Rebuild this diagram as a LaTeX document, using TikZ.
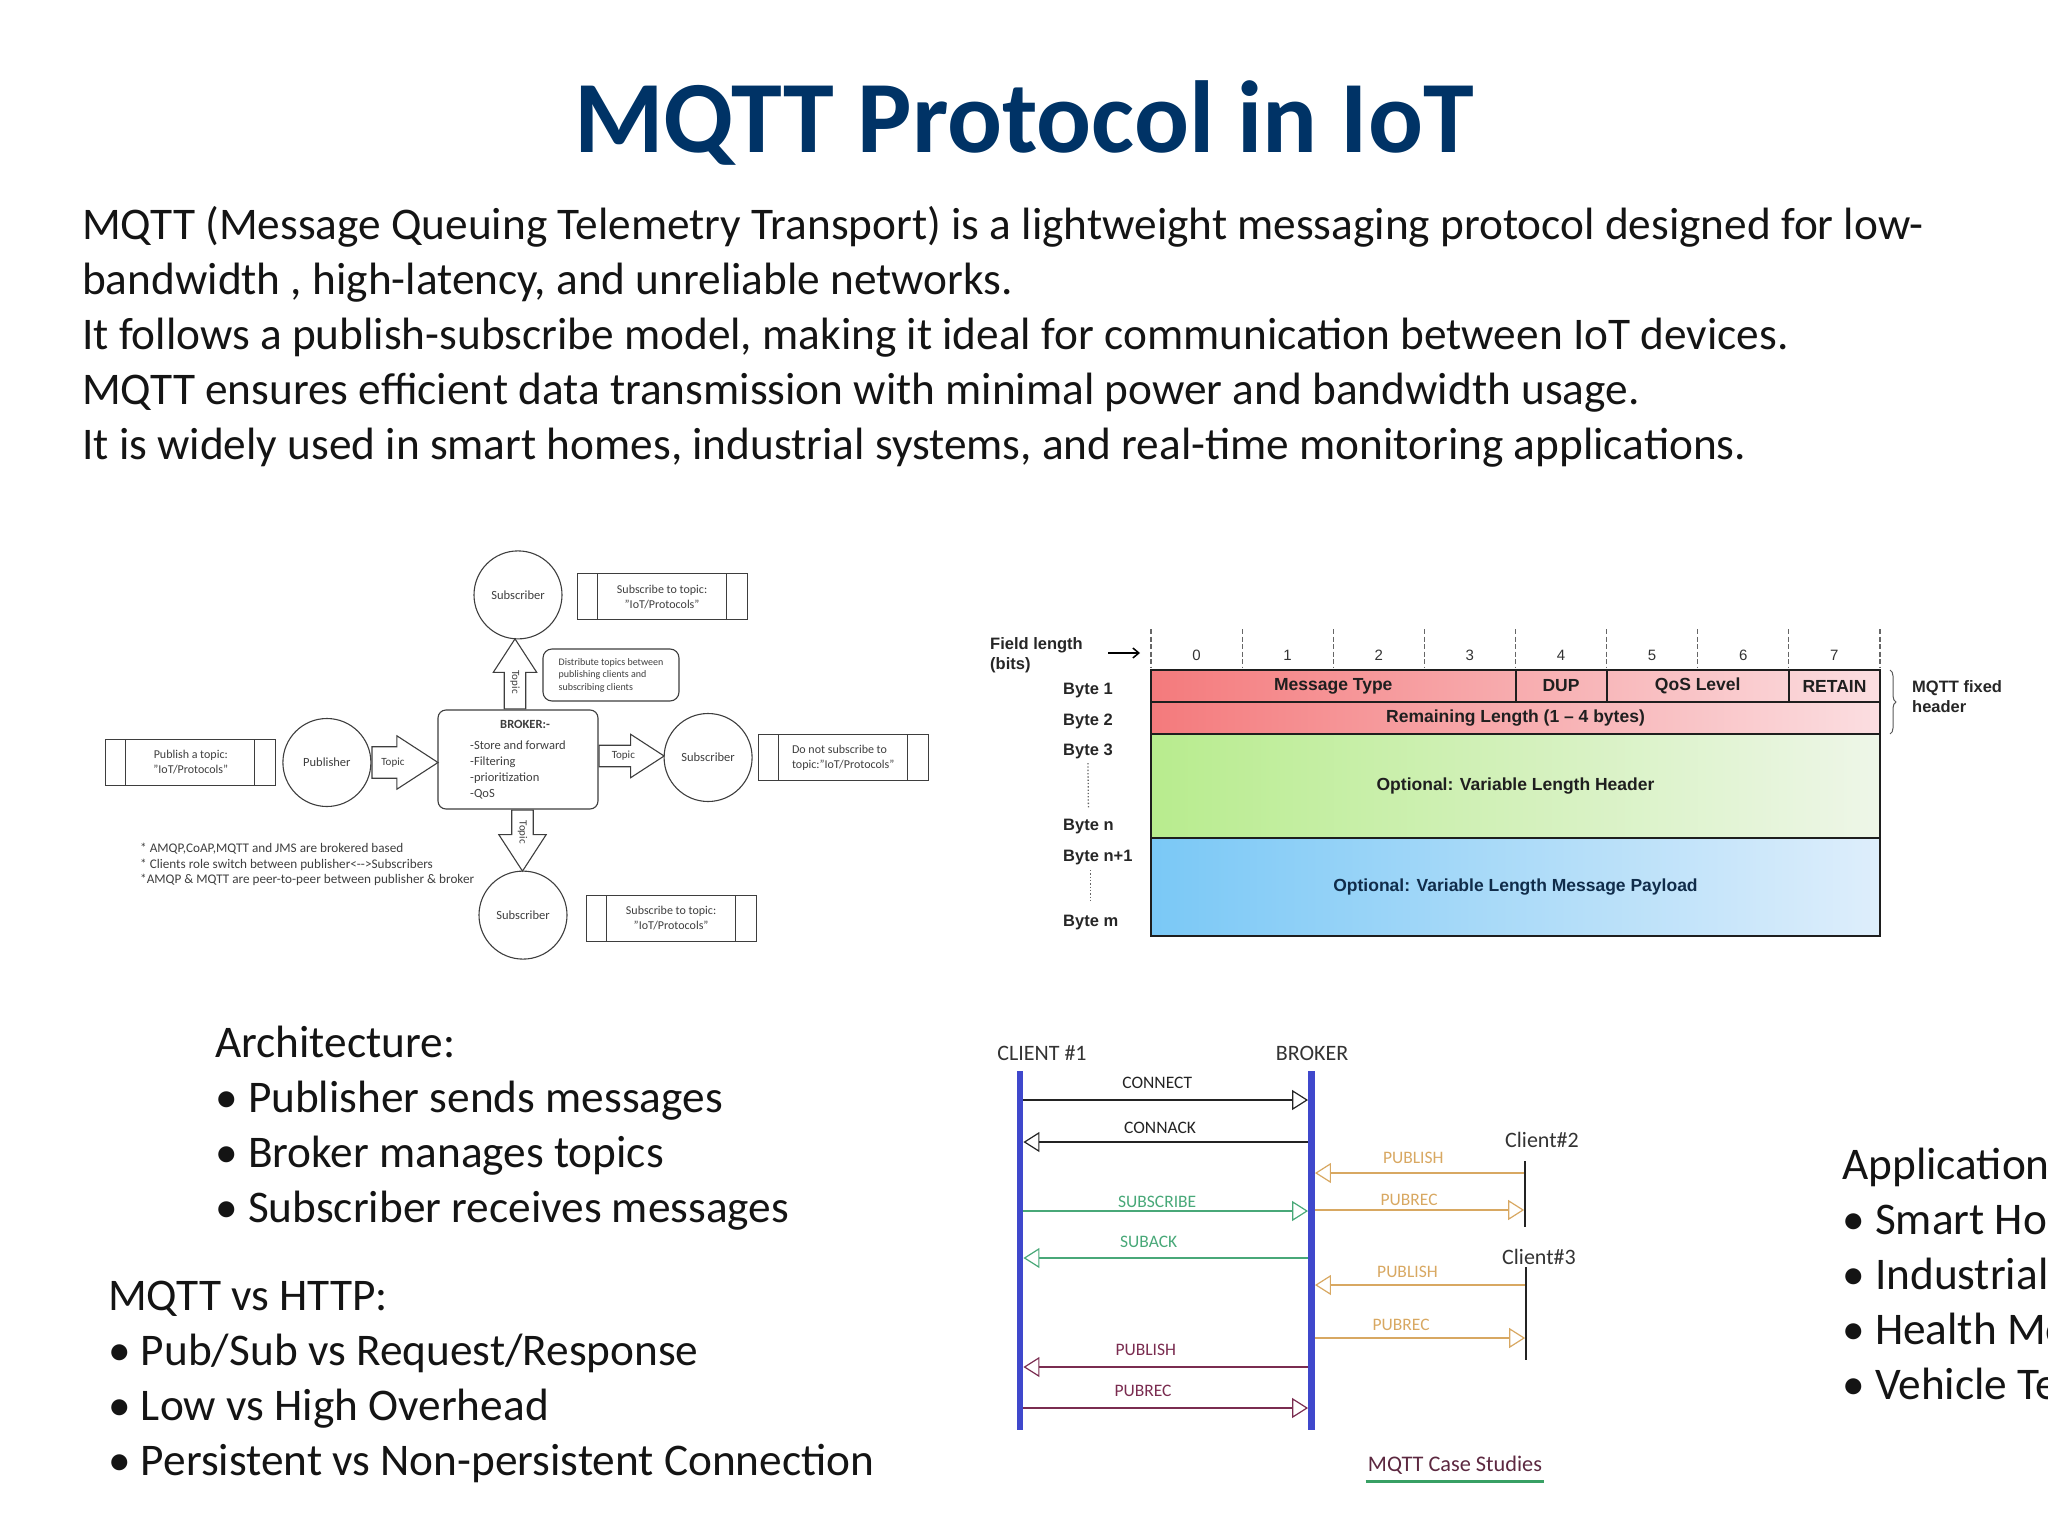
\documentclass[tikz,border=0pt]{standalone}
\usepackage{fontspec}
\setmainfont{Carlito}
\newfontfamily\arialfont{Liberation Sans}
\usepackage{graphicx}
\usetikzlibrary{arrows.meta,positioning,shapes.arrows,decorations.pathreplacing,calc}

\definecolor{titleblue}{RGB}{0,51,102}
\definecolor{diagray}{RGB}{62,62,62}
\definecolor{redL}{RGB}{244,122,124}
\definecolor{redR}{RGB}{251,222,225}
\definecolor{grnL}{RGB}{184,236,142}
\definecolor{grnR}{RGB}{238,246,232}
\definecolor{bluL}{RGB}{122,200,246}
\definecolor{bluR}{RGB}{222,238,251}
\definecolor{pkline}{RGB}{30,30,30}
\definecolor{payload}{RGB}{16,44,74}
\definecolor{seqblue}{RGB}{63,72,204}
\definecolor{seqblack}{RGB}{35,35,35}
\definecolor{subgreen}{RGB}{72,168,120}
\definecolor{puborange}{RGB}{216,168,98}
\definecolor{pubmaroon}{RGB}{122,44,80}
\definecolor{casegreen}{RGB}{56,160,100}
\definecolor{casetext}{RGB}{92,40,64}

\begin{document}
\begin{tikzpicture}[x=1pt,y=-1pt,
  txt/.style={anchor=north west,inner sep=0pt,align=left,text=black!92,
              font=\fontsize{45.3}{55}\selectfont},
  sub/.style={circle,draw=diagray,line width=1.1pt,minimum size=88pt,inner sep=0pt,
              text=diagray,font=\fontsize{12.5}{15}\selectfont},
  tbox/.style={draw=diagray,line width=1.1pt,minimum width=170pt,minimum height=46pt,
               inner sep=0pt,align=center,text=diagray,font=\fontsize{12}{15}\selectfont,
               path picture={\draw[diagray,line width=1.1pt]
                 ([xshift=20pt]path picture bounding box.north west) -- ([xshift=20pt]path picture bounding box.south west)
                 ([xshift=-21pt]path picture bounding box.north east) -- ([xshift=-21pt]path picture bounding box.south east);}},
  broker/.style={draw=diagray,line width=1.1pt,rounded corners=8pt,minimum width=160pt,
                 minimum height=99pt,align=left,text=diagray,font=\fontsize{12.5}{16}\selectfont},
  topicarr/.style={single arrow,draw=diagray,fill=white,line width=1.1pt,
                   single arrow head extend=11pt,single arrow tip angle=66,
                   inner xsep=3pt,inner ysep=5.5pt,text=diagray,font=\fontsize{11}{11}\selectfont},
  pkcell/.style={draw=pkline,line width=2pt,anchor=north west,inner sep=0pt,outer sep=0pt,
                 text=black!88,font=\arialfont\bfseries\fontsize{17.5}{20}\selectfont},
  pklabel/.style={anchor=base west,inner sep=0pt,text=black!85,
                  font=\arialfont\bfseries\fontsize{16.5}{20}\selectfont},
  bitnum/.style={inner sep=0pt,text=black!80,font=\arialfont\fontsize{15}{16}\selectfont},
  lifeline/.style={fill=seqblue,minimum width=6.5pt,minimum height=359pt,inner sep=0pt},
  thinline/.style={fill=seqblack,minimum width=1.3pt,inner sep=0pt},
  msg/.style={line width=1.2pt,-{Triangle[open,length=16pt,width=20pt]}},
  mlabel/.style={inner sep=0pt,font=\fontsize{17.5}{18}\selectfont},
  seqhead/.style={inner sep=0pt,text=black!80,font=\fontsize{22}{24}\selectfont}]

\useasboundingbox (0,0) rectangle (2048,1536);
\clip (0,0) rectangle (2048,1536);

% title and introduction
\node[anchor=base,text=titleblue,font=\fontsize{102.4}{110}\selectfont\bfseries] (title) at (1024,153) {MQTT Protocol in IoT};
\node[txt] (intro) at (82,206) {MQTT (Message Queuing Telemetry Transport) is a lightweight messaging protocol designed for low-\\
bandwidth , high-latency, and unreliable networks.\\
It follows a publish-subscribe model, making it ideal for communication between IoT devices.\\
MQTT ensures efficient data transmission with minimal power and bandwidth usage.\\
It is widely used in smart homes, industrial systems, and real-time monitoring applications.};

% publish / subscribe through the broker
\node[broker] (broker) at (518,759.5) {\hspace*{30pt}\textbf{BROKER:-}\\[5pt]-Store and forward\\-Filtering\\-prioritization\\-QoS};
\node[sub,above=70pt of broker] (subtop) {Subscriber};
\node[sub,left=66pt of broker,yshift=-3pt] (pub) {Publisher};
\node[sub,right=65pt of broker,yshift=2pt] (subright) {Subscriber};
\node[sub,below=61pt of broker,xshift=5pt] (subbot) {Subscriber};

\node[topicarr,anchor=tail,minimum height=66pt,inner ysep=10.5pt] (arpub) at (pub.east) {Topic};
\node[topicarr,rotate=90,anchor=tail,minimum height=70pt] (artop) at ([xshift=-3pt]broker.north) {\rotatebox{180}{Topic}};
\node[topicarr,anchor=tail,minimum height=65pt] (arright) at ([yshift=3.5pt]broker.east) {Topic};
\node[topicarr,rotate=-90,anchor=tail,minimum height=61pt,single arrow head extend=13pt] (arbot) at ([xshift=4.5pt]broker.south) {Topic};

\node[tbox,left=6pt of pub] (boxpub) {Publish a topic:\\"IoT/Protocols"};
\node[tbox,right=14pt of subtop,yshift=-2pt] (boxtop) {Subscribe to topic:\\"IoT/Protocols"};
\node[tbox,right=5pt of subright,align=left] (boxright) {Do not subscribe to\\topic:"IoT/Protocols"};
\node[tbox,right=18pt of subbot,yshift=-3pt] (boxbot) {Subscribe to topic:\\"IoT/Protocols"};
\node[draw=diagray,line width=1.1pt,rounded corners=9pt,minimum width=136pt,minimum height=52pt,
      align=left,text=diagray,font=\fontsize{10}{12.5}\selectfont] (dist) at (611,675)
      {Distribute topics between\\publishing clients and\\subscribing clients};
\node[anchor=north west,inner sep=0pt,align=left,text=diagray,font=\fontsize{13.2}{15.5}\selectfont] (notes) at (140,843)
      {* AMQP,CoAP,MQTT and JMS are brokered based\\* Clients role switch between publisher<-{}->Subscribers\\*AMQP \& MQTT are peer-to-peer between publisher \& broker};

% MQTT packet format
\foreach \i in {0,...,8}
  \draw[dash pattern=on 5pt off 2.5pt,line width=1.1pt,black!60] (1151+91.125*\i,629) -- (1151+91.125*\i,668);
\foreach \i in {0,...,7}
  \node[bitnum] (bit\i) at (1196.5+91.125*\i,655) {\i};
\node[pkcell,minimum width=729pt,minimum height=32pt,left color=redL,right color=redR] (row1) at (1151,670) {};
\node[pkcell,minimum width=364.5pt,minimum height=32pt] (mtype) at (1151,670) {Message Type};
\node[pkcell,minimum width=91pt,minimum height=32pt,right=0pt of mtype] (dup) {DUP};
\node[pkcell,minimum width=182.5pt,minimum height=32pt,right=0pt of dup] (qos) {QoS Level};
\node[pkcell,minimum width=91pt,minimum height=32pt,right=0pt of qos] (retain) {RETAIN};
\node[pkcell,minimum width=729pt,minimum height=32pt,left color=redL,right color=redR,below=0pt of row1] (rlen) {Remaining Length (1 – 4 bytes)};
\node[pkcell,minimum width=729pt,minimum height=104pt,left color=grnL,right color=grnR,below=0pt of rlen] (varhdr) {Optional: Variable Length Header};
\node[pkcell,minimum width=729pt,minimum height=98pt,left color=bluL,right color=bluR,below=0pt of varhdr,text=payload] (payload) {Optional: Variable Length Message Payload};

\node[pklabel,anchor=north west,align=left] (fieldlen) at (990,637) {Field length\\(bits)};
\coordinate (fla) at (1108,653);
\coordinate (flb) at (1140,653);
\draw[-{Straight Barb[length=6pt,width=10pt]},line width=1.5pt,black] (fla) -- (flb);
\foreach \n/\t/\y in {lb1/Byte 1/694,lb2/Byte 2/725,lb3/Byte 3/755,lbn/Byte n/830,lbnn/Byte n+1/861,lbm/Byte m/926}
  \node[pklabel] (\n) at (1063,\y) {\t};
\draw[dotted,line width=1.3pt,black!60] ([yshift=-4.5pt]lb3.south) -- ([yshift=10pt]lbn.north);
\draw[dotted,line width=1.3pt,black!60] ($(lbm.north |- lbnn.south)+(0,5.5)$) -- ([yshift=12pt]lbm.north);
\draw[decorate,decoration={brace,amplitude=6pt},line width=1pt,black!65] ([xshift=10pt]row1.north east) -- ([xshift=10pt]rlen.south east);
\node[pklabel,anchor=north west,align=left] (fixhdr) at (1912,680) {MQTT fixed\\header};

% message sequence
\node[lifeline] (c1) at (1020,1250.5) {};
\node[lifeline] (bk) at (1311.5,1250.5) {};
\node[thinline,minimum height=66pt] (c2) at (1525,1194) {};
\node[thinline,minimum height=93pt] (c3) at (1526,1313.5) {};
\node[seqhead] (c1name) at (1042,1053) {CLIENT \#1};
\node[seqhead] (bkname) at (1312,1053) {BROKER};
\node[seqhead] (c2name) at (1542,1140) {Client\#2};
\node[seqhead] (c3name) at (1539,1257) {Client\#3};

\draw[msg,seqblack] (c1.east |- 0,1100) -- node[mlabel,pos=.47,above=11pt,text=seqblack] {CONNECT} (bk.west |- 0,1100);
\draw[msg,seqblack] (bk.west |- 0,1142) -- node[mlabel,pos=.52,above=7.5pt,text=seqblack] {CONNACK} (c1.east |- 0,1142);
\draw[msg,puborange] (c2.west |- 0,1173) -- node[mlabel,pos=.53,above=8.5pt,text=puborange] {PUBLISH} (bk.east |- 0,1173);
\draw[msg,puborange] (bk.east |- 0,1210) -- node[mlabel,pos=.45,above=3.5pt,text=puborange] {PUBREC} (c2.west |- 0,1210);
\draw[msg,subgreen] (c1.east |- 0,1211) -- node[mlabel,pos=.47,above=2.5pt,text=subgreen] {SUBSCRIBE} (bk.west |- 0,1211);
\draw[msg,subgreen] (bk.west |- 0,1258) -- node[mlabel,pos=.56,above=9.5pt,text=subgreen] {SUBACK} (c1.east |- 0,1258);
\draw[msg,puborange] (c3.west |- 0,1285) -- node[mlabel,pos=.56,above=6.5pt,text=puborange] {PUBLISH} (bk.east |- 0,1285);
\draw[msg,puborange] (bk.east |- 0,1338) -- node[mlabel,pos=.41,above=6.5pt,text=puborange] {PUBREC} (c3.west |- 0,1338);
\draw[msg,pubmaroon] (bk.west |- 0,1367) -- node[mlabel,pos=.57,above=10.5pt,text=pubmaroon] {PUBLISH} (c1.east |- 0,1367);
\draw[msg,pubmaroon] (c1.east |- 0,1408) -- node[mlabel,pos=.42,above=10.5pt,text=pubmaroon] {PUBREC} (bk.west |- 0,1408);

\node[inner sep=0pt,text=casetext,font=\fontsize{22.3}{24}\selectfont] (cases) at (1455,1465) {MQTT Case Studies};
\draw[casegreen,line width=3pt] ([yshift=-10pt,xshift=-2pt]cases.base west) -- ([yshift=-10pt,xshift=2pt]cases.base east);

% summary lists
\node[txt] (arch) at (215,1026) {Architecture:\\\textbullet{} Publisher sends messages\\\textbullet{} Broker manages topics\\\textbullet{} Subscriber receives messages};
\node[txt] (versus) at (108,1281) {MQTT vs HTTP:\\\textbullet{} Pub/Sub vs Request/Response\\\textbullet{} Low vs High Overhead\\\textbullet{} Persistent vs Non-persistent Connection};
\node[txt] (apps) at (1842,1148) {Applications:\\\textbullet{} Smart Homes\\\textbullet{} Industrial Automation\\\textbullet{} Health Monitoring\\\textbullet{} Vehicle Telematics};
\end{tikzpicture}
\end{document}
